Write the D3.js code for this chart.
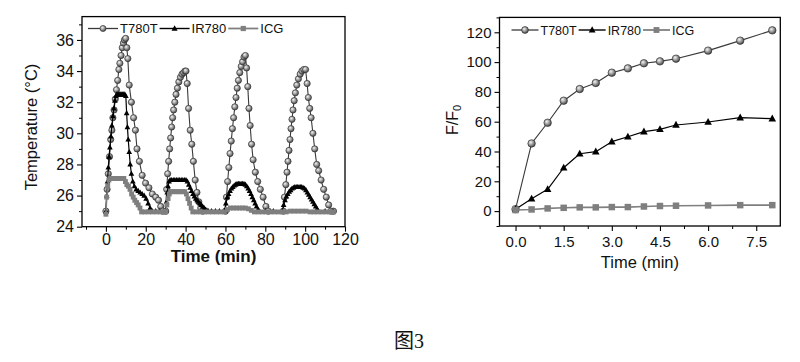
<!DOCTYPE html>
<html><head><meta charset="utf-8">
<script src="https://cdn.jsdelivr.net/npm/d3@7"></script>
<style>
html,body{margin:0;padding:0;background:#fff;}
svg{display:block;}
text{font-family:Arial,"Liberation Sans",sans-serif;fill:#111;}
</style></head>
<body>
<svg id="chart" width="800" height="362"></svg>
<script>
// ---------- DATA ----------
const seriesNames = ["T780T", "IR780", "ICG"];

// Left panel: photothermal heating/cooling cycles [time (min), temperature (°C)]
const leftT780T = [
 [0,25.0],[0.6,26.4],[1.2,27.4],[1.8,28.5],[2.4,29.6],[3.0,30.2],[3.5,31.0],[4.1,31.5],[4.7,32.2],[5.3,32.8],[5.9,33.4],[6.5,34.1],[7.0,34.5],[7.6,35.0],[8.2,35.5],[8.8,35.8],[9.3,36.0],[9.9,36.1],
 [10.5,35.5],[11.0,34.8],[11.7,33.1],[12.8,32.0],[13.9,31.0],[14.8,30.2],[15.6,29.0],[16.8,28.2],[18.2,27.3],[19.9,26.8],[21.6,26.5],[23.3,26.1],[25.0,25.9],[26.4,25.7],[27.5,25.3],[28.5,25.0],
 [30.0,25.0],[30.5,26.4],[31.0,27.4],[31.5,28.2],[32.0,29.0],[32.5,29.7],[33.0,30.4],[33.5,31.0],[34.0,31.5],[34.6,32.0],[35.2,32.5],[35.9,32.9],[36.6,33.3],[37.4,33.6],[38.2,33.8],[39.0,33.9],[39.7,34.0],[40.2,34.0],
 [40.8,33.2],[41.5,31.6],[42.3,30.2],[43.1,29.3],[43.9,28.2],[44.8,27.0],[45.7,26.2],[46.6,25.6],[47.6,25.2],[48.6,25.0],
 [60.0,25.0],[60.5,25.9],[61.1,26.9],[61.7,27.8],[62.3,28.7],[62.9,29.5],[63.5,30.3],[64.1,31.0],[64.7,31.7],[65.3,32.3],[65.9,32.9],[66.5,33.4],[67.2,33.9],[67.9,34.3],[68.6,34.6],[69.3,34.9],[70.0,35.0],
 [70.6,34.2],[71.2,33.0],[71.8,31.6],[72.4,30.5],[73.1,29.3],[73.9,28.3],[75.0,27.5],[76.2,26.9],[77.5,26.4],[78.9,25.9],[80.3,25.3],[81.5,25.0],
 [89.0,25.0],[89.6,25.9],[90.3,26.7],[90.9,27.5],[91.4,28.2],[91.9,28.9],[92.4,29.6],[92.9,30.3],[93.4,30.9],[93.9,31.5],[94.5,32.1],[95.1,32.6],[95.8,33.1],[96.6,33.5],[97.5,33.8],[98.4,34.0],[99.3,34.1],[100.2,34.1],
 [101.0,33.2],[101.6,32.3],[102.3,31.6],[103.0,31.0],[103.9,30.0],[104.8,29.0],[105.8,28.0],[106.8,27.6],[108.0,27.0],[109.3,26.4],[110.6,25.9],[111.8,25.4],[113.0,25.0],[114.2,25.0]
];
const leftIR780 = [
 [0,25.0],[0.4,26.0],[0.8,26.9],[1.2,27.8],[1.6,28.5],[2.0,29.1],[2.5,29.8],[3.0,30.5],[3.5,31.1],[4.0,31.6],[4.5,32.1],[5.0,32.4],[5.5,32.5],[6.0,32.5],[6.5,32.5],[7.0,32.5],[7.5,32.5],[8.0,32.5],[8.5,32.5],[9.0,32.5],[9.5,32.5],[10.0,32.4],
 [10.4,31.3],[10.8,30.4],[11.2,29.6],[11.7,28.8],[12.2,28.0],[12.8,27.4],[13.5,26.9],[14.3,26.6],[15.2,26.4],[16.2,26.3],[17.2,26.2],[18.2,26.1],[19.2,26.0],[20.2,25.8],[21.2,25.5],[22.2,25.2],[23.2,25.0],[25.0,25.0],[27.0,25.0],
 [30.0,25.0],[30.4,25.6],[30.8,26.2],[31.2,26.6],[31.7,26.9],[32.2,27.0],[33.0,27.0],[33.8,27.0],[34.6,27.0],[35.4,27.0],[36.2,27.0],[37.0,27.0],[37.8,27.0],[38.6,27.0],[39.4,27.0],[40.2,27.0],
 [40.9,26.9],[41.6,26.7],[42.3,26.5],[43.0,26.3],[43.7,26.1],[44.4,25.95],[45.1,25.8],[45.8,25.7],[46.5,25.6],[47.2,25.5],[47.9,25.4],[48.6,25.3],[49.3,25.2],[50.0,25.1],[50.7,25.05],[51.4,25.0],[53.0,25.0],[55.0,25.0],[57.0,25.0],
 [59.5,25.0],[60.2,25.5],[60.9,25.9],[61.6,26.1],[62.3,26.3],[63.0,26.45],[63.7,26.55],[64.4,26.65],[65.1,26.7],[65.8,26.75],[66.5,26.75],[67.2,26.75],[67.9,26.75],[68.6,26.75],[69.3,26.75],[70.0,26.7],
 [70.7,26.6],[71.4,26.45],[72.1,26.3],[72.8,26.1],[73.5,25.9],[74.2,25.7],[74.9,25.5],[75.6,25.3],[76.3,25.1],[77.0,25.0],[80.0,25.0],[84.0,25.0],
 [88.5,25.0],[89.2,25.4],[89.9,25.7],[90.6,25.95],[91.3,26.1],[92.0,26.25],[92.7,26.35],[93.4,26.45],[94.1,26.5],[94.8,26.55],[95.5,26.55],[96.2,26.55],[96.9,26.55],[97.6,26.55],[98.3,26.55],[99.0,26.5],
 [99.7,26.45],[100.4,26.35],[101.1,26.2],[101.8,26.05],[102.5,25.9],[103.2,25.75],[103.9,25.6],[104.6,25.45],[105.3,25.3],[106.0,25.15],[106.7,25.0],[110.0,25.0],[114.0,25.0]
];
const leftICG = [
 [0,24.8],[0.4,25.9],[0.9,26.6],[1.5,27.0],[2.1,27.1],[3.0,27.1],[4.0,27.1],[5.0,27.1],[6.0,27.1],[7.0,27.1],[8.0,27.1],[9.0,27.1],[9.8,26.9],[10.5,26.7],[11.3,26.6],[12.1,26.4],[12.9,26.1],[13.7,25.9],[14.5,25.7],[15.4,25.55],[16.2,25.4],[17.1,25.2],[17.9,24.95],
 [19.5,24.95],[21.5,24.95],[23.5,24.95],[25.5,24.95],[27.5,24.95],[29.0,24.95],
 [30.0,24.95],[30.6,25.4],[31.2,25.8],[31.8,26.1],[32.5,26.25],[33.5,26.25],[34.5,26.25],[35.5,26.25],[36.5,26.25],[37.5,26.25],[38.5,26.25],[39.5,26.25],[40.4,26.1],[41.2,25.8],[42.0,25.5],[42.8,25.2],[43.6,24.95],
 [45.5,24.95],[47.5,24.95],[49.5,24.95],[51.5,24.95],[53.5,24.95],[55.5,24.95],[57.5,24.95],[59.5,24.95],
 [61.0,25.1],[62.5,25.2],[64.0,25.2],[65.5,25.2],[67.0,25.2],[68.5,25.2],[70.0,25.2],[71.5,25.15],[73.0,25.05],[74.5,24.95],
 [76.5,24.95],[78.5,24.95],[80.5,24.95],[82.5,24.95],[84.5,24.95],[86.5,24.95],[88.5,24.95],[90.5,24.95],[92.5,25.0],[94.5,25.0],[96.5,25.0],[98.5,25.0],[100.5,25.0],[102.5,24.95],[104.5,24.95],[106.5,24.95],[108.5,24.95],[110.5,24.95],[112.5,24.95],[114.2,24.95]
];
const leftXTicks = [0,20,40,60,80,100,120];
const leftXMinor = [-10,10,30,50,70,90,110];
const leftYTicks = [24,26,28,30,32,34,36];
const leftYMinor = [25,27,29,31,33,35,37];

// Right panel: fluorescence enhancement F/F0 vs time
const rightTime  = [0,0.5,1,1.5,2,2.5,3,3.5,4,4.5,5,6,7,8];
const rightT780T = [1.3,45.4,59.3,74.1,81.9,86.0,92.9,95.8,99.2,100.5,102.3,107.7,114.4,121.3];
const rightIR780 = [1.3,8.3,14.6,29.1,38.5,39.9,46.6,49.9,53.3,54.9,57.8,59.8,62.7,62.0];
const rightICG   = [0.7,1.1,1.8,2.2,2.5,2.5,2.7,2.7,3.1,3.4,3.6,3.8,4.0,4.0];
const rightXTicks = [0,1.5,3,4.5,6,7.5];
const rightXMinor = [0.75,2.25,3.75,5.25,6.75];
const rightYTicks = [0,20,40,60,80,100,120];
const rightYMinor = [-10,10,30,50,70,90,110,130];

const caption = "图3";

// ---------- DRAW ----------
const svg = d3.select("#chart");
const defs = svg.append("defs");
const grad = defs.append("radialGradient").attr("id","sphere").attr("cx","38%").attr("cy","35%").attr("r","65%");
grad.append("stop").attr("offset","0%").attr("stop-color","#f4f4f4");
grad.append("stop").attr("offset","45%").attr("stop-color","#a8a8a8");
grad.append("stop").attr("offset","100%").attr("stop-color","#4a4a4a");

const styles = {
  T780T: {line:"#3a3a3a", lw:1.1, marker:"circle"},
  IR780: {line:"#000", lw:1.2, marker:"triangle"},
  ICG:   {line:"#808080", lw:1.6, marker:"square"}
};

function drawMarker(g, type, x, y, s) {
  if (type === "circle") {
    g.append("circle").attr("cx",x).attr("cy",y).attr("r",s*0.52)
      .attr("fill","url(#sphere)").attr("stroke","#333").attr("stroke-width",0.7);
  } else if (type === "triangle") {
    const h = s*0.95, w = s*1.05;
    g.append("path").attr("d",`M${x},${y-h*0.6}L${x+w/2},${y+h*0.4}L${x-w/2},${y+h*0.4}Z`).attr("fill","#000");
  } else {
    g.append("rect").attr("x",x-s*0.45).attr("y",y-s*0.45).attr("width",s*0.9).attr("height",s*0.9).attr("fill","#7f7f7f");
  }
}

function panel(opt) {
  const {x, y, xTicks, xMinor, yTicks, yMinor, xFmt, fs, series, legend, xTitle, xTitleY, xTitleWeight, yTitle} = opt;
  const g = svg.append("g");
  const [x0,x1] = x.range(), [y0,y1] = y.range();
  series.forEach(s => {
    const st = styles[s.name];
    const line = d3.line().x(d=>x(d[0])).y(d=>y(d[1]));
    g.append("path").datum(s.data).attr("d",line).attr("fill","none")
      .attr("stroke",st.line).attr("stroke-width",st.lw).attr("stroke-linejoin","round");
    const mg = g.append("g");
    const ms = (opt.msizes && opt.msizes[s.name]) || opt.msize;
    s.data.forEach(d => drawMarker(mg, st.marker, x(d[0]), y(d[1]), ms));
  });
  g.append("rect").attr("x",x0).attr("y",y1).attr("width",x1-x0).attr("height",y0-y1)
    .attr("fill","none").attr("stroke","#000").attr("stroke-width",1.3);
  const ax = g.append("g").attr("transform",`translate(0,${y0})`)
    .call(d3.axisBottom(x).tickValues(xTicks).tickFormat(xFmt).tickSize(5).tickPadding(opt.xPad).tickSizeOuter(0));
  ax.select(".domain").remove();
  ax.selectAll("text").style("font-size",fs+"px").attr("font-family","Arial, 'Liberation Sans', sans-serif");
  ax.selectAll("line").attr("stroke","#000").attr("stroke-width",1.1);
  const axm = g.append("g").attr("transform",`translate(0,${y0})`)
    .call(d3.axisBottom(x).tickValues(xMinor).tickFormat("").tickSize(3).tickSizeOuter(0));
  axm.select(".domain").remove(); axm.selectAll("line").attr("stroke","#000");
  const ay = g.append("g").attr("transform",`translate(${x0},0)`)
    .call(d3.axisLeft(y).tickValues(yTicks).tickSize(5).tickPadding(3).tickSizeOuter(0));
  ay.select(".domain").remove();
  ay.selectAll("text").style("font-size",fs+"px").attr("font-family","Arial, 'Liberation Sans', sans-serif");
  ay.selectAll("line").attr("stroke","#000").attr("stroke-width",1.1);
  const aym = g.append("g").attr("transform",`translate(${x0},0)`)
    .call(d3.axisLeft(y).tickValues(yMinor).tickFormat("").tickSize(3).tickSizeOuter(0));
  aym.select(".domain").remove(); aym.selectAll("line").attr("stroke","#000");
  g.append("text").attr("x",(x0+x1)/2).attr("y",xTitleY).attr("text-anchor","middle")
    .style("font-size",opt.titleFs+"px").style("font-weight",xTitleWeight).text(xTitle);
  const yt = g.append("text").attr("transform",`translate(${opt.yTitleX},${opt.yTitleCY}) rotate(-90)`)
    .attr("text-anchor","middle").style("font-size",opt.yTitleFs+"px");
  yTitle(yt);
  let lx = legend.x;
  seriesNames.forEach((n) => {
    const st = styles[n];
    g.append("line").attr("x1",lx).attr("x2",lx+legend.len).attr("y1",legend.y).attr("y2",legend.y)
      .attr("stroke",st.line).attr("stroke-width",st.lw+0.2);
    drawMarker(g, st.marker, lx+legend.len/2, legend.y, legend.ms);
    const t = g.append("text").attr("x",lx+legend.len+2).attr("y",legend.y).attr("dy","0.36em")
      .style("font-size",legend.fs+"px").text(n);
    lx = lx + legend.len + 2 + t.node().getComputedTextLength() + 2;
  });
}

const xL = d3.scaleLinear().domain([-12,120]).range([82,345]);
const yL = d3.scaleLinear().domain([24,37.5]).range([226.7,16.6]);
panel({
  x:xL, y:yL, xTicks:leftXTicks, xMinor:leftXMinor, yTicks:leftYTicks, yMinor:leftYMinor,
  xFmt:d3.format("d"), fs:16, xPad:2, msize:5.4, msizes:{T780T:6}, 
  series:[{name:"T780T",data:leftT780T},{name:"IR780",data:leftIR780},{name:"ICG",data:leftICG}],
  legend:{x:88,y:28.5,len:30,fs:13,ms:5.8},
  xTitle:"Time (min)", xTitleY:262, xTitleWeight:"bold", titleFs:17,
  yTitleX:37, yTitleCY:127, yTitleFs:16.5,
  yTitle: t => t.text("Temperature (\u00B0C)")
});

const xR = d3.scaleLinear().domain([-0.5,8.25]).range([499.5,780.3]);
const yR = d3.scaleLinear().domain([-10,130]).range([226,17.4]);
const rightSeries = [
  {name:"T780T", data: rightTime.map((t,i)=>[t,rightT780T[i]])},
  {name:"IR780", data: rightTime.map((t,i)=>[t,rightIR780[i]])},
  {name:"ICG",   data: rightTime.map((t,i)=>[t,rightICG[i]])}
];
panel({
  x:xR, y:yR, xTicks:rightXTicks, xMinor:rightXMinor, yTicks:rightYTicks, yMinor:rightYMinor,
  xFmt:d3.format(".1f"), fs:15, xPad:5, msize:7.2,
  series:rightSeries,
  legend:{x:511.5,y:30,len:27,fs:12.5,ms:6.5},
  xTitle:"Time (min)", xTitleY:268, xTitleWeight:"normal", titleFs:16.5,
  yTitleX:458, yTitleCY:120, yTitleFs:16,
  yTitle: t => { t.append("tspan").text("F/F"); t.append("tspan").attr("dy","0.3em").style("font-size","11px").text("0"); }
});

svg.append("text").attr("x",409).attr("y",348).attr("text-anchor","middle")
  .style("font-family","'Liberation Serif','Times New Roman','Noto Sans CJK SC',serif")
  .style("font-size","20px").text(caption);
</script>
</body></html>
